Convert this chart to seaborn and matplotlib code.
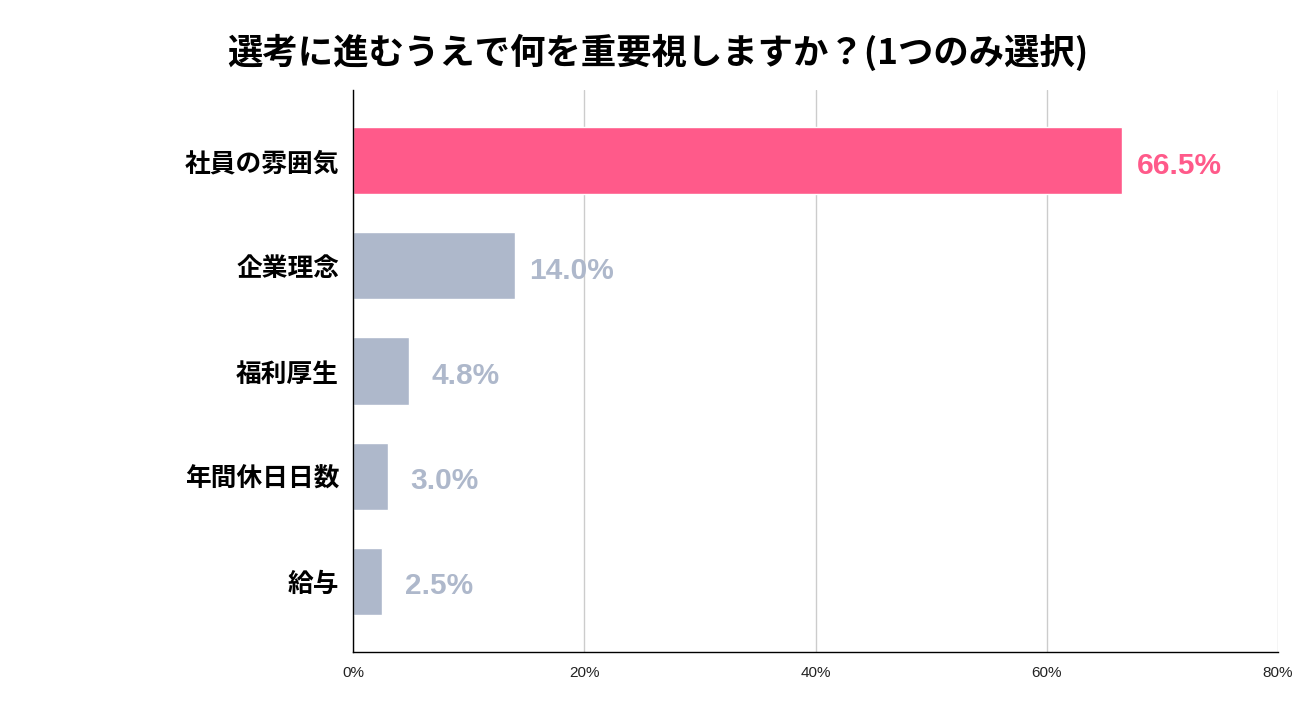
import matplotlib
matplotlib.use("Agg")
import matplotlib.pyplot as plt
import seaborn as sns
import pandas as pd
from matplotlib.ticker import FuncFormatter

categories = ["社員の雰囲気", "企業理念", "福利厚生", "年間休日日数", "給与"]
values = [66.5, 14.0, 4.8, 3.0, 2.5]
value_labels = ["66.5%", "14.0%", "4.8%", "3.0%", "2.5%"]
xticks = [0, 20, 40, 60, 80]
title = "選考に進むうえで何を重要視しますか？(1つのみ選択)"

PINK = "#FF5A8A"
GRAY = "#AEB8CB"
colors = [PINK, GRAY, GRAY, GRAY, GRAY]

sns.set_theme(style="white")
plt.rcParams['font.family'] = ['Noto Sans CJK JP', 'DejaVu Sans']

df = pd.DataFrame({"cat": categories, "val": values})

fig = plt.figure(figsize=(13.15, 7.21), dpi=100)
ax = fig.add_axes([353/1315, 1-652/721, (1278-353)/1315, (652-90)/721])

sns.barplot(data=df, x="val", y="cat", hue="cat", palette=colors, legend=False,
            width=0.64, ax=ax, saturation=1)

ax.set_xlim(0, 80)
ax.set_ylim(4.67, -0.67)
ax.set_xticks(xticks)
ax.xaxis.set_major_formatter(FuncFormatter(lambda v, p: f"{int(v)}%"))
ax.set_xlabel("")
ax.set_ylabel("")
ax.grid(axis="x", color="#CCCCCC", linewidth=1)
ax.set_axisbelow(True)
for s in ["top", "right"]:
    ax.spines[s].set_visible(False)
for s in ["left", "bottom"]:
    ax.spines[s].set_color("black")
    ax.spines[s].set_linewidth(1)
ax.tick_params(axis="x", length=0, pad=10, labelsize=11)
ax.tick_params(axis="y", length=0, pad=10)
for lbl in ax.get_xticklabels():
    lbl.set_fontfamily(["Liberation Sans", "DejaVu Sans"])
    lbl.set_color("#222222")
for lbl in ax.get_yticklabels():
    lbl.set_fontsize(18.5)
    lbl.set_fontweight("bold")
    lbl.set_color("black")

for i, (v, t, c) in enumerate(zip(values, value_labels, colors)):
    ax.annotate(t, xy=(v, i), xytext=(57, -5), textcoords="offset pixels",
                ha="center", va="center", fontsize=21.5, fontweight="bold",
                color=c, family=["Liberation Sans", "DejaVu Sans"])

fig.text(0.5, 1-52/721, title, ha="center", va="center", fontsize=25.5,
         fontweight="bold", color="black")

fig.savefig("out.png", dpi=100, facecolor="white")
